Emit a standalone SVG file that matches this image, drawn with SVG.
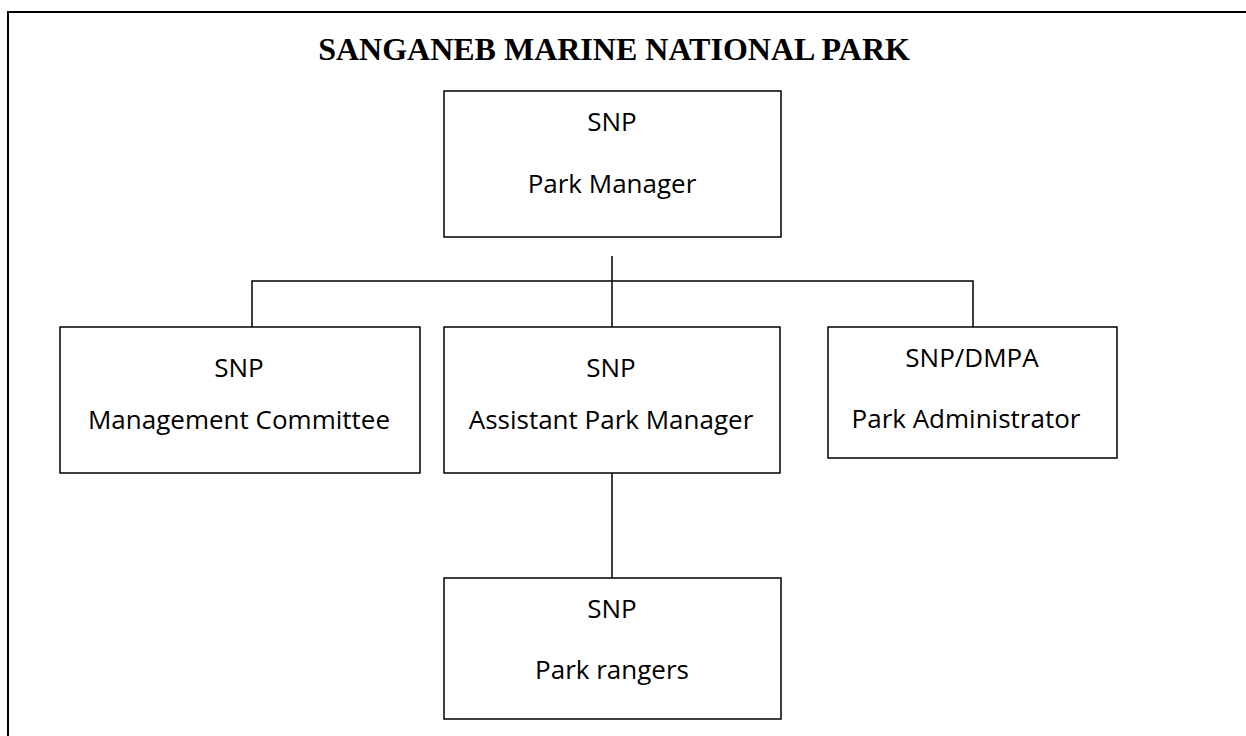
<svg xmlns="http://www.w3.org/2000/svg" width="1246" height="736" viewBox="0 0 1246 736">
<style>
.box{fill:#fff;stroke:#000;stroke-width:1.5}
.lbl{font-family:"Open Sans","Liberation Sans",sans-serif;font-size:26px;fill:#000;text-anchor:middle}
.title{font-family:"Liberation Serif","Times New Roman",serif;font-size:32px;font-weight:bold;fill:#000;text-anchor:middle}
.conn{fill:none;stroke:#000;stroke-width:1.5}
</style>
<rect x="0" y="0" width="1246" height="736" fill="#fff"/>
<path d="M8,760 V12 H1260" fill="none" stroke="#000" stroke-width="2"/>
<text class="title" x="614" y="60">SANGANEB MARINE NATIONAL PARK</text>
<g id="connectors">
<line class="conn" x1="612" y1="256" x2="612" y2="327"/>
<polyline class="conn" points="252,327 252,281 973,281 973,327"/>
<line class="conn" x1="612" y1="473" x2="612" y2="578"/>
</g>
<g id="park-manager">
<rect class="box" x="444" y="91" width="337" height="146"/>
<text class="lbl" x="612" y="131">SNP</text>
<text class="lbl" x="612" y="193">Park Manager</text>
</g>
<g id="management-committee">
<rect class="box" x="60" y="327" width="360" height="146"/>
<text class="lbl" x="239" y="377">SNP</text>
<text class="lbl" x="239" y="429">Management Committee</text>
</g>
<g id="assistant-park-manager">
<rect class="box" x="444" y="327" width="336" height="146"/>
<text class="lbl" x="611" y="377">SNP</text>
<text class="lbl" x="611" y="429">Assistant Park Manager</text>
</g>
<g id="park-administrator">
<rect class="box" x="828" y="327" width="289" height="131"/>
<text class="lbl" x="972" y="367">SNP/DMPA</text>
<text class="lbl" x="966" y="428">Park Administrator</text>
</g>
<g id="park-rangers">
<rect class="box" x="444" y="578" width="337" height="141"/>
<text class="lbl" x="612" y="618">SNP</text>
<text class="lbl" x="612" y="679">Park rangers</text>
</g>
</svg>
